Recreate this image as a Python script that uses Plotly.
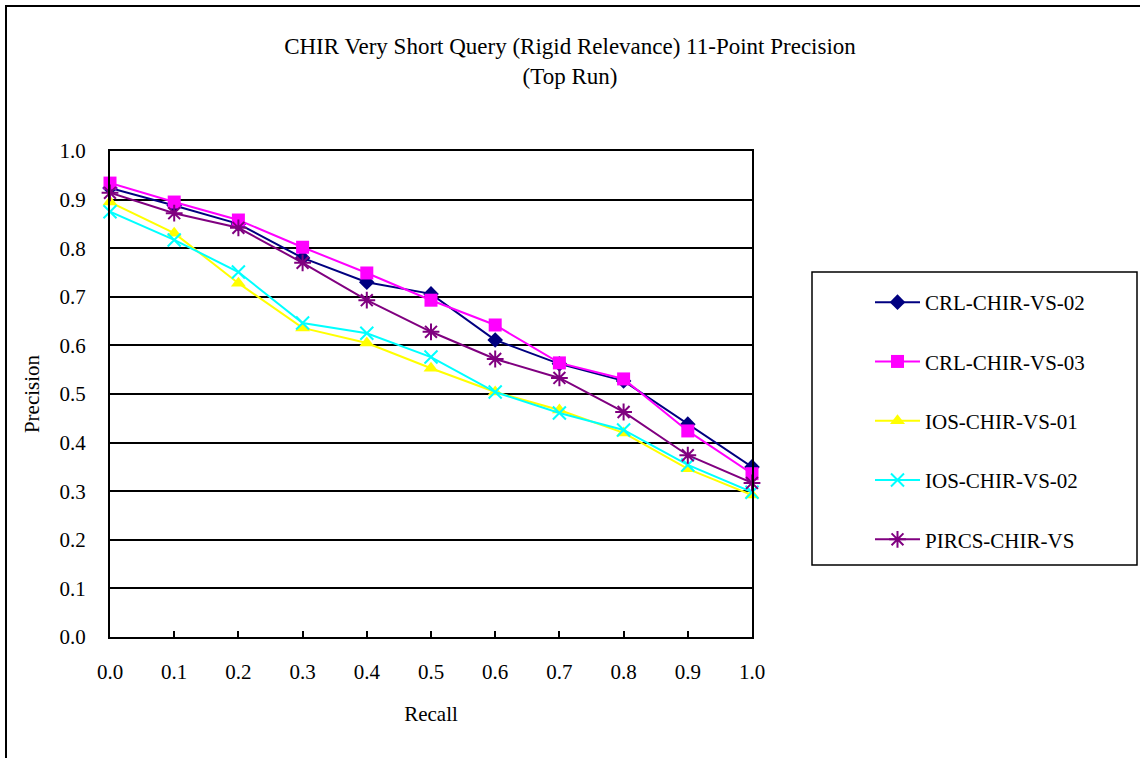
import plotly.graph_objects as go

recall = [0.0, 0.1, 0.2, 0.3, 0.4, 0.5, 0.6, 0.7, 0.8, 0.9, 1.0]
crl_02 = [0.924, 0.888, 0.850, 0.780, 0.730, 0.706, 0.611, 0.562, 0.527, 0.438, 0.350]
crl_03 = [0.934, 0.895, 0.858, 0.802, 0.749, 0.693, 0.642, 0.564, 0.531, 0.424, 0.336]
ios_01 = [0.895, 0.831, 0.728, 0.636, 0.605, 0.553, 0.504, 0.467, 0.420, 0.346, 0.292]
ios_02 = [0.875, 0.817, 0.751, 0.646, 0.625, 0.576, 0.504, 0.461, 0.426, 0.354, 0.298]
pircs = [0.914, 0.872, 0.842, 0.770, 0.693, 0.628, 0.572, 0.533, 0.463, 0.374, 0.317]

series_names = ["CRL-CHIR-VS-02", "CRL-CHIR-VS-03", "IOS-CHIR-VS-01", "IOS-CHIR-VS-02", "PIRCS-CHIR-VS"]
series_values = [crl_02, crl_03, ios_01, ios_02, pircs]
colors = ["#000080", "#FF00FF", "#FFFF00", "#00FFFF", "#800080"]
symbols = ["diamond", "square", "triangle-up", "x-thin-open", "asterisk-open"]
sizes = [12, 13, 13, 13, 14]

FONT = "Liberation Serif, Times New Roman, serif"

fig = go.Figure()
for i, (name, vals) in enumerate(zip(series_names, series_values)):
    open_sym = symbols[i].endswith("open")
    fig.add_trace(go.Scatter(
        x=recall, y=vals, name=name, mode="lines+markers",
        legendgroup=f"g{i}",
        line=dict(color=colors[i], width=2),
        marker=dict(symbol=symbols[i], size=sizes[i], color=colors[i],
                    line=dict(color=colors[i], width=2 if open_sym else 0)),
        cliponaxis=False,
    ))

W, H = 1140, 758
L, R, T, B = 110, 752, 151, 637
pw, ph = R - L, B - T

def px(xp):
    return (xp - L) / pw

def py(yp):
    return (B - yp) / ph

shapes = [
    # outer chart border
    dict(type="rect", xref="paper", yref="paper", x0=px(6), x1=px(1160), y0=py(6), y1=py(780),
         line=dict(color="black", width=2), fillcolor="rgba(0,0,0,0)", layer="below"),
    # legend box
    dict(type="rect", xref="paper", yref="paper", x0=px(812), x1=px(1137), y0=py(272), y1=py(565),
         line=dict(color="black", width=1.5), fillcolor="rgba(0,0,0,0)"),
]

fig.update_layout(
    width=W, height=H,
    margin=dict(l=L, r=W - R, t=T, b=H - B, pad=0),
    paper_bgcolor="white", plot_bgcolor="white",
    font=dict(family=FONT, size=21, color="black"),
    title=dict(text="CHIR Very Short Query (Rigid Relevance) 11-Point Precision<br>(Top Run)",
               xref="container", yref="container", x=570 / W, y=1 - 54 / H,
               xanchor="center", yanchor="middle",
               font=dict(family=FONT, size=23, color="black")),
    xaxis=dict(range=[0, 1], tickvals=recall, tickformat=".1f",
               showgrid=False, zeroline=False,
               showline=True, linecolor="black", linewidth=2, mirror=True,
               ticks="inside", ticklen=6, tickwidth=2, tickcolor="black",
               ticklabelstandoff=15,
               title=dict(text="Recall", standoff=23, font=dict(size=21))),
    yaxis=dict(range=[0, 1], dtick=0.1, tickformat=".1f",
               showgrid=True, gridcolor="black", gridwidth=1.5, zeroline=False,
               showline=True, linecolor="black", linewidth=2, mirror=True,
               ticks="", ticklabelstandoff=18,
               title=dict(text="Precision", standoff=14, font=dict(size=21))),
    legend=dict(x=px(870), y=py(282), xanchor="left", yanchor="top",
                bgcolor="rgba(0,0,0,0)", borderwidth=0,
                traceorder="grouped", tracegroupgap=29, itemwidth=45,
                font=dict(family=FONT, size=21, color="black")),
    shapes=shapes,
)

fig.write_html("out.html")
